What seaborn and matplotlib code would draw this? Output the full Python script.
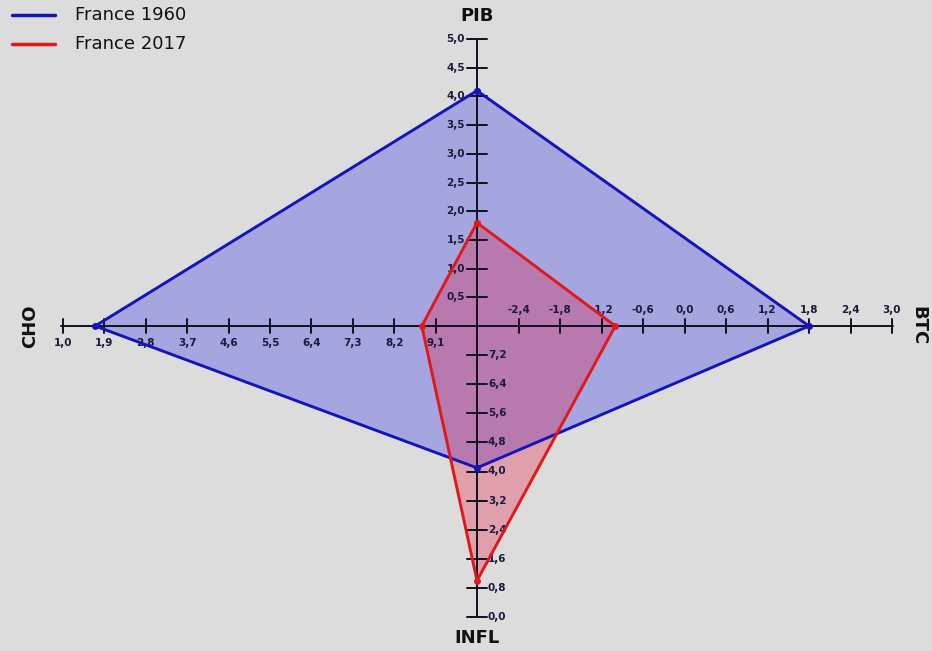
import numpy as np
import pandas as pd
import matplotlib
matplotlib.use("Agg")
import matplotlib.pyplot as plt
import seaborn as sns

# ---------------- data ----------------
axis_names = ["PIB", "BTC", "INFL", "CHO"]
series_names = ["France 1960", "France 2017"]
values_1960 = [4.1, 1.8, 4.1, 1.7]
values_2017 = [1.8, -1.0, 1.0, 8.8]

pib_ticks = [0.5, 1.0, 1.5, 2.0, 2.5, 3.0, 3.5, 4.0, 4.5, 5.0]
btc_ticks = [-2.4, -1.8, -1.2, -0.6, 0.0, 0.6, 1.2, 1.8, 2.4, 3.0]
infl_ticks = [7.2, 6.4, 5.6, 4.8, 4.0, 3.2, 2.4, 1.6, 0.8, 0.0]
cho_ticks = [9.1, 8.2, 7.3, 6.4, 5.5, 4.6, 3.7, 2.8, 1.9, 1.0]

# scale of each axis: value at the centre, value at the outer end
axis_center_value = {"PIB": 0.0, "BTC": -3.0, "INFL": 8.0, "CHO": 10.0}
axis_end_value = {"PIB": 5.0, "BTC": 3.0, "INFL": 0.0, "CHO": 1.0}

# ---------------- geometry (pixel-like plane) ----------------
W, H = 932, 651
CX, CY = 477, 326
axis_dir = {"PIB": (0, -1), "BTC": (1, 0), "INFL": (0, 1), "CHO": (-1, 0)}
axis_len = {"PIB": 287, "BTC": 415, "INFL": 291, "CHO": 414}


def pos(axis, v):
    c, e = axis_center_value[axis], axis_end_value[axis]
    f = (v - c) / (e - c)
    dx, dy = axis_dir[axis]
    L = axis_len[axis]
    return CX + dx * L * f, CY + dy * L * f


def fmt(v):
    return f"{v:.1f}".replace(".", ",")


BG = "#dcdcdc"
BLUE = "#1414bc"
RED = "#e01818"

sns.set_style("white")
plt.rcParams["font.family"] = ["DejaVu Sans"]

fig = plt.figure(figsize=(W / 100, H / 100), dpi=100, facecolor=BG)
ax = fig.add_axes([0, 0, 1, 1])
ax.set_facecolor(BG)

series = {"France 1960": values_1960, "France 2017": values_2017}
colors = {"France 1960": BLUE, "France 2017": RED}
fill_cols = {"France 1960": ("#2828eb", 0.30), "France 2017": ("#e6143c", 0.30)}

rows = []
for name, vals in series.items():
    for a, v in zip(axis_names + [axis_names[0]], vals + [vals[0]]):
        x, y = pos(a, v)
        rows.append({"series": name, "axis": a, "x": x, "y": y})
df = pd.DataFrame(rows)

# fills
for name in series_names:
    d = df[df.series == name]
    c, al = fill_cols[name]
    ax.fill(d.x, d.y, color=c, alpha=al, lw=0, zorder=1)

# axes lines
x0, _ = pos("CHO", axis_end_value["CHO"])
x1, _ = pos("BTC", axis_end_value["BTC"])
_, y0 = pos("PIB", axis_end_value["PIB"])
_, y1 = pos("INFL", axis_end_value["INFL"])
ax.plot([x0 - 2, x1 + 1], [CY, CY], color="#101020", lw=1.4, zorder=3)
ax.plot([CX, CX], [y0, y1], color="#101020", lw=1.4, zorder=3)

tick_col = "#1a1a3c"
tick_font = dict(fontsize=7.5, fontweight="bold", color=tick_col)
for a, ticks in [("PIB", pib_ticks), ("BTC", btc_ticks), ("INFL", infl_ticks), ("CHO", cho_ticks)]:
    for t in ticks:
        x, y = pos(a, t)
        if a in ("PIB", "INFL"):
            ax.plot([x - 10, x + 10], [y, y], color="#101020", lw=1.4, zorder=3)
            if a == "PIB":
                ax.text(x - 12, y, fmt(t), ha="right", va="center", zorder=4, **tick_font)
            else:
                ax.text(x + 11, y, fmt(t), ha="left", va="center", zorder=4, **tick_font)
        else:
            ax.plot([x, x], [y - 7, y + 7], color="#101020", lw=1.4, zorder=3)
            if a == "CHO":
                ax.text(x, y + 17, fmt(t), ha="center", va="center", zorder=4, **tick_font)
            else:
                ax.text(x, y - 16, fmt(t), ha="center", va="center", zorder=4, **tick_font)

# polygon outlines with vertex markers
for name in series_names:
    d = df[df.series == name]
    sns.lineplot(data=d, x="x", y="y", sort=False, estimator=None, ax=ax,
                 color=colors[name], lw=2.1, marker="o", markersize=5,
                 markeredgewidth=0, zorder=5, legend=False)
ax.set_xlim(0, W)
ax.set_ylim(H, 0)
ax.axis("off")

# axis titles
title_font = dict(fontsize=13, fontweight="bold", color="#111111")
ax.text(CX, 16, "PIB", ha="center", va="center", **title_font)
ax.text(CX, 638, "INFL", ha="center", va="center", **title_font)
ax.text(30, CY, "CHO", ha="center", va="center", rotation=90, **title_font)
ax.text(918, CY, "BTC", ha="center", va="center", rotation=-90, **title_font)

# legend
for i, name in enumerate(series_names):
    yy = 15 + i * 29
    ax.plot([12, 55], [yy, yy], color=colors[name], lw=2.5)
    ax.text(75, yy, name, ha="left", va="center", fontsize=13, color="#111111")

fig.savefig("out.png", dpi=100, facecolor=BG)
